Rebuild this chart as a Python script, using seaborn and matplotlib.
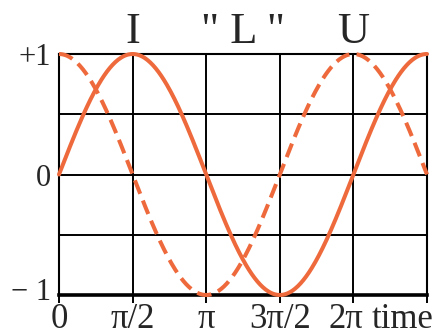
import numpy as np
import pandas as pd
import matplotlib
matplotlib.use("Agg")
import matplotlib.pyplot as plt
import matplotlib.transforms as mtransforms
import seaborn as sns

# Phase axis: 0 .. 2.5*pi, ticks every pi/2
x_ticks = [0, np.pi / 2, np.pi, 3 * np.pi / 2, 2 * np.pi, 5 * np.pi / 2]
x_tick_labels = ["0", "π/2", "π", "3π/2", "2π", ""]
y_ticks = [-1, -0.5, 0, 0.5, 1]
y_tick_labels = ["− 1", "", "0", "", "+1"]

# Waveforms of the inductor: current lags the voltage by a quarter period
amplitude_current = 1.0
amplitude_voltage = 1.0
phase_current = 0.0          # I = sin(wt)
phase_voltage = np.pi / 2    # U = sin(wt + pi/2)
t = np.linspace(0, 5 * np.pi / 2, 400)

# Curve labels above the plot
top_labels = ["I", '" L "', "U"]
top_label_x = [np.pi / 2, 1.25 * np.pi, 2 * np.pi]

df = pd.DataFrame({
    "t": np.concatenate([t, t]),
    "value": np.concatenate([
        amplitude_current * np.sin(t + phase_current),
        amplitude_voltage * np.sin(t + phase_voltage),
    ]),
    "wave": ["I"] * len(t) + ["U"] * len(t),
})

sns.set_style("white")
plt.rcParams["font.family"] = ["Liberation Serif", "DejaVu Serif"]

orange = "#EE6A3C"

fig = plt.figure(figsize=(4.44, 3.36), dpi=100)
ax = fig.add_axes([59 / 444, 41 / 336, 368 / 444, 241 / 336])

sns.lineplot(data=df[df.wave == "I"], x="t", y="value", ax=ax,
             color=orange, lw=2.9, clip_on=False, zorder=3)
sns.lineplot(data=df[df.wave == "U"], x="t", y="value", ax=ax,
             color=orange, lw=2.9, clip_on=False, zorder=3,
             linestyle=(0, (3.6, 1.8)))

ax.set_xlim(0, 5 * np.pi / 2)
ax.set_ylim(-1, 1)
ax.set_xticks(x_ticks)
ax.set_xticklabels(x_tick_labels, fontsize=25)
ax.set_yticks(y_ticks)
ax.set_yticklabels(y_tick_labels, fontsize=22)
ax.set_xlabel("")
ax.set_ylabel("")

ax.grid(True, color="black", lw=1.4)
ax.set_axisbelow(True)
ax.tick_params(axis="x", direction="out", length=6, width=1.4,
               color="black", pad=0, bottom=True)
ax.tick_params(axis="y", length=0, pad=6, left=False)

for side in ["left", "right", "top"]:
    ax.spines[side].set_color("black")
    ax.spines[side].set_linewidth(1.5)
    ax.spines[side].set_visible(True)
ax.spines["bottom"].set_color("black")
ax.spines["bottom"].set_linewidth(2.6)
ax.spines["bottom"].set_visible(True)

# nudge the 2π label slightly left to leave room for "time"
shift = mtransforms.ScaledTranslation(-8 / 100, 0, fig.dpi_scale_trans)
lbl = ax.get_xticklabels()[4]
lbl.set_transform(lbl.get_transform() + shift)

# lift the "− 1" label a little off the bottom line
lift = mtransforms.ScaledTranslation(0, 6 / 100, fig.dpi_scale_trans)
ylbl = ax.get_yticklabels()[0]
ylbl.set_transform(ylbl.get_transform() + lift)

fig.text(372 / 444, 8 / 336, "time", fontsize=25, ha="left", va="baseline")

blend = mtransforms.blended_transform_factory(ax.transData, ax.transAxes)
for txt, xpos in zip(top_labels, top_label_x):
    ax.text(xpos, 1 + 11 / 241, txt, transform=blend, fontsize=32,
            ha="center", va="baseline")

fig.savefig("out.png", dpi=100)
